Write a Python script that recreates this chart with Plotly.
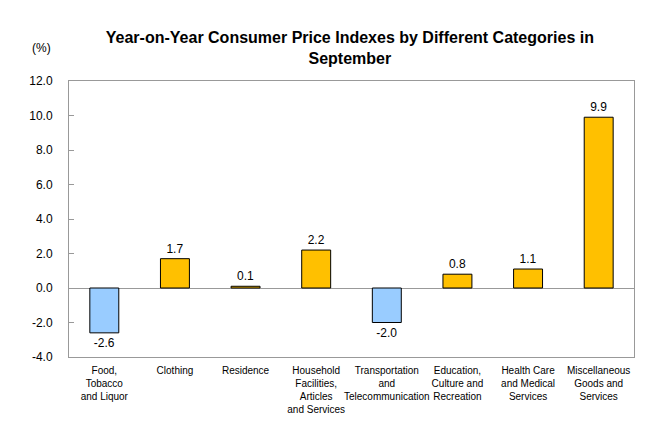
import plotly.graph_objects as go

categories = ["Food,<br>Tobacco<br>and Liquor", "Clothing", "Residence",
              "Household<br>Facilities,<br>Articles<br>and Services",
              "Transportation<br>and<br>Telecommunication",
              "Education,<br>Culture and<br>Recreation",
              "Health Care<br>and Medical<br>Services",
              "Miscellaneous<br>Goods and<br>Services"]
values = [-2.6, 1.7, 0.1, 2.2, -2.0, 0.8, 1.1, 9.9]
labels = ["-2.6", "1.7", "0.1", "2.2", "-2.0", "0.8", "1.1", "9.9"]
y_ticks = [-4, -2, 0, 2, 4, 6, 8, 10, 12]
y_tick_text = ["-4.0", "-2.0", "0.0", "2.0", "4.0", "6.0", "8.0", "10.0", "12.0"]

colors = ["#99CCFF" if v < 0 else "#FFC000" for v in values]
FONT = "Arial, Liberation Sans, sans-serif"

fig = go.Figure(go.Bar(
    x=list(range(len(categories))), y=values,
    marker=dict(color=colors, line=dict(color="black", width=1)),
    width=0.41,
    text=labels, textposition="outside", cliponaxis=False,
    textfont=dict(family=FONT, size=12, color="black"),
))

fig.update_layout(
    width=660, height=440,
    margin=dict(l=61, r=34, t=73, b=91, autoexpand=False),
    paper_bgcolor="white", plot_bgcolor="white",
    showlegend=False,
    font=dict(family=FONT, color="black"),
    title=dict(text="<b>Year-on-Year Consumer Price Indexes by Different Categories in<br>September</b>",
               x=0.518, xanchor="center", y=0.921, yanchor="top",
               font=dict(family=FONT, size=16, color="black")),
    xaxis=dict(tickmode="array", tickvals=list(range(len(categories))), ticktext=categories,
               range=[-0.5, len(categories) - 0.5], showgrid=False, zeroline=False,
               showline=True, linecolor="#999999", linewidth=1, mirror=True,
               ticks="", tickangle=0, automargin=False, ticklabelstandoff=4,
               tickfont=dict(family=FONT, size=10, color="black")),
    yaxis=dict(range=[-4, 12], tickvals=y_ticks, ticktext=y_tick_text,
               showgrid=False, zeroline=True, zerolinecolor="#999999", zerolinewidth=1,
               showline=True, linecolor="#999999", linewidth=1, mirror=True,
               ticks="inside", ticklen=5, tickcolor="#999999", automargin=False,
               ticklabelstandoff=13,
               tickfont=dict(family=FONT, size=12, color="black")),
)
fig.add_annotation(text="(%)", xref="paper", yref="paper", x=-0.028, y=1.087,
                   xanchor="right", yanchor="bottom", showarrow=False,
                   font=dict(family=FONT, size=12, color="black"))

fig.write_html("out.html")
